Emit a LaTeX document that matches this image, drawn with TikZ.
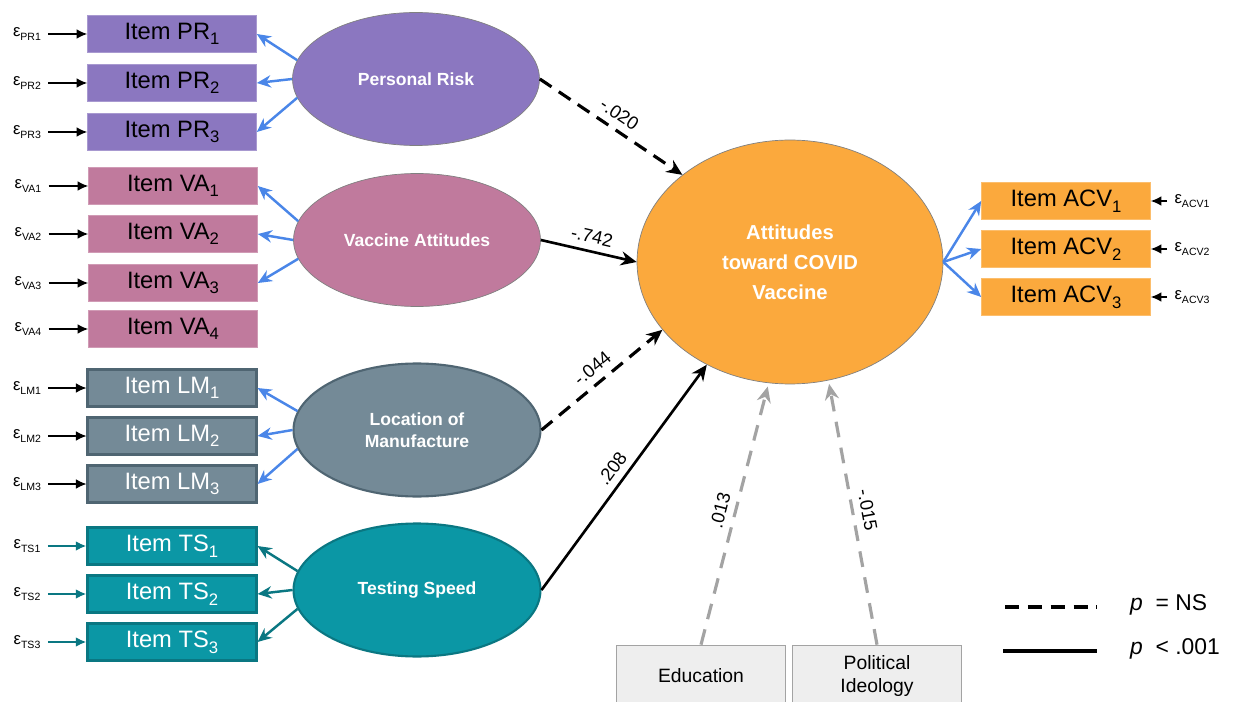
\documentclass[tikz,border=0pt]{standalone}
\usepackage{fontspec}
\setmainfont{Liberation Sans}
\usetikzlibrary{shapes.geometric,arrows.meta}

\definecolor{riskpurple}{HTML}{8B77C0}
\definecolor{attpink}{HTML}{C07A9D}
\definecolor{locgray}{HTML}{748A97}
\definecolor{locdark}{HTML}{4F6572}
\definecolor{speedteal}{HTML}{0B97A5}
\definecolor{speeddark}{HTML}{0A7782}
\definecolor{covorange}{HTML}{FBA93D}
\definecolor{loadblue}{HTML}{4A86E8}
\definecolor{covgray}{HTML}{A3A3A3}
\definecolor{boxgray}{HTML}{EEEEEE}

\newcommand{\itsub}[1]{\raisebox{-0.45ex}{\fontsize{9.5}{10}\selectfont #1}}
\newcommand{\errlab}[1]{{\fontsize{9.5}{10}\selectfont ε}\raisebox{-0.5ex}{\fontsize{6}{6}\selectfont #1}}

\tikzset{
  item/.style={rectangle, minimum width=3.38cm, minimum height=0.74cm, inner sep=0pt,
    font=\fontsize{13.5}{15}\selectfont},
  latent/.style={ellipse, minimum width=4.94cm, minimum height=2.66cm, inner sep=0pt,
    text=white, align=center, font=\bfseries\fontsize{10}{12.5}\selectfont},
  errnode/.style={inner sep=1pt},
  errarrow/.style={-{Latex[length=6pt,width=5.5pt]}, line width=0.7pt, shorten <=3pt},
  load/.style={-{Stealth[length=8pt,width=7pt]}, line width=1.4pt, loadblue},
  effect/.style={-{Stealth[length=9pt,width=8pt]}, line width=1.5pt},
  ns/.style={effect, dash pattern=on 8pt off 5pt, line width=1.8pt},
  covar/.style={-{Stealth[length=9pt,width=8pt]}, covgray, line width=1.8pt,
    dash pattern=on 9pt off 6pt, shorten >=2pt},
  coef/.style={sloped, above, inner sep=4pt, font=\fontsize{10.5}{12}\selectfont},
  control/.style={rectangle, fill=boxgray, draw=covgray, minimum width=3.38cm,
    minimum height=1.24cm, align=center, font=\fontsize{11}{13}\selectfont}
}

\begin{document}
\begin{tikzpicture}[x=0.02cm, y=-0.02cm]
  \useasboundingbox (0,0) rectangle (1233,702);

  % Factores latentes
  \node[latent, fill=riskpurple, draw=gray] (risk) at (416,79) {Personal Risk};
  \node[latent, fill=attpink, draw=gray] (vacc) at (417,240) {Vaccine Attitudes};
  \node[latent, fill=locgray, draw=locdark, line width=1.2pt] (loc) at (417,430) {Location of\\Manufacture};
  \node[latent, fill=speedteal, draw=speeddark, line width=1.2pt] (speed) at (417,590) {Testing Speed};
  \node[ellipse, fill=covorange, draw=gray, minimum width=6.12cm, minimum height=4.88cm,
    text=white, align=center, font=\bfseries\fontsize{11.5}{17}\selectfont] (att) at (790,262)
    {Attitudes\\toward COVID\\Vaccine};

  % Items Personal Risk
  \foreach \i/\y/\a in {1/34/171, 2/83/180, 3/132/189} {
    \node[item, fill=riskpurple, draw=riskpurple!75!white] (pr\i) at (172,\y) {Item PR\itsub{\i}};
    \node[errnode] (epr\i) at (27,\y) {\errlab{PR\i}};
    \draw[errarrow] (epr\i) -- (pr\i);
    \draw[load] (risk.\a) -- (pr\i.east);
  }

  % Items Vaccine Attitudes
  \foreach \i/\y in {1/186, 2/234, 3/283, 4/329} {
    \node[item, fill=attpink, draw=attpink!75!white] (va\i) at (173,\y) {Item VA\itsub{\i}};
    \node[errnode] (eva\i) at (28,\y) {\errlab{VA\i}};
    \draw[errarrow] (eva\i) -- (va\i);
  }
  \draw[load] (vacc.171) -- (va1.east);
  \draw[load] (vacc.180) -- (va2.east);
  \draw[load] (vacc.189) -- (va3.east);

  % Items Location of Manufacture
  \foreach \i/\y/\a in {1/388/171, 2/436/180, 3/484/189} {
    \node[item, fill=locgray, draw=locdark, line width=1.2pt, text=white] (lm\i) at (172,\y) {Item LM\itsub{\i}};
    \node[errnode] (elm\i) at (27,\y) {\errlab{LM\i}};
    \draw[errarrow] (elm\i) -- (lm\i);
    \draw[load] (loc.\a) -- (lm\i.east);
  }

  % Items Testing Speed
  \foreach \i/\y/\a in {1/546/171, 2/594/180, 3/642/189} {
    \node[item, fill=speedteal, draw=speeddark, line width=1.2pt, text=white] (ts\i) at (172,\y) {Item TS\itsub{\i}};
    \node[errnode] (ets\i) at (27,\y) {\errlab{TS\i}};
    \draw[errarrow, speeddark, line width=1.6pt] (ets\i) -- (ts\i);
    \draw[load, speeddark] (speed.\a) -- (ts\i.east);
  }

  % Items ACV
  \foreach \i/\y in {1/201, 2/249, 3/297} {
    \node[item, fill=covorange, draw=covorange!75!white] (acv\i) at (1066,\y) {Item ACV\itsub{\i}};
    \node[errnode] (eacv\i) at (1192,\y) {\errlab{ACV\i}};
    \draw[errarrow] (eacv\i) -- (acv\i);
    \draw[load] (att.east) -- (acv\i.west);
  }

  % Efectos estructurales
  \draw[ns] (risk.east) -- (att.141) node[coef, midway] {-.020};
  \draw[effect] (vacc.east) -- (att.west) node[coef, midway] {-.742};
  \draw[ns] (loc.east) -- (att.208) node[coef, midway] {-.044};
  \draw[effect] (speed.east) -- (att.231) node[coef, midway] {.208};

  % Covariables
  \node[control] (edu) at (701,676) {Education};
  \node[control] (pol) at (877,676) {Political\\Ideology};
  \draw[covar] (edu.north) -- (att.260) node[coef, midway, black] {.013};
  \draw[covar] (pol.north) -- (att.288) node[coef, midway, black] {-.015};

  % Leyenda
  \coordinate (nsa) at (1005,607);
  \coordinate (nsb) at (1097,607);
  \coordinate (sga) at (1003,651);
  \coordinate (sgb) at (1097,651);
  \draw[line width=1.8pt, dash pattern=on 8pt off 5pt] (nsa) -- (nsb);
  \draw[line width=1.8pt] (sga) -- (sgb);
  \node[anchor=west, font=\fontsize{13}{15}\selectfont] (nstext) at (1124,605) {\textit{p}\ \ = NS};
  \node[anchor=west, font=\fontsize{13}{15}\selectfont] (sgtext) at (1124,649) {\textit{p}\ \ < .001};
\end{tikzpicture}
\end{document}
